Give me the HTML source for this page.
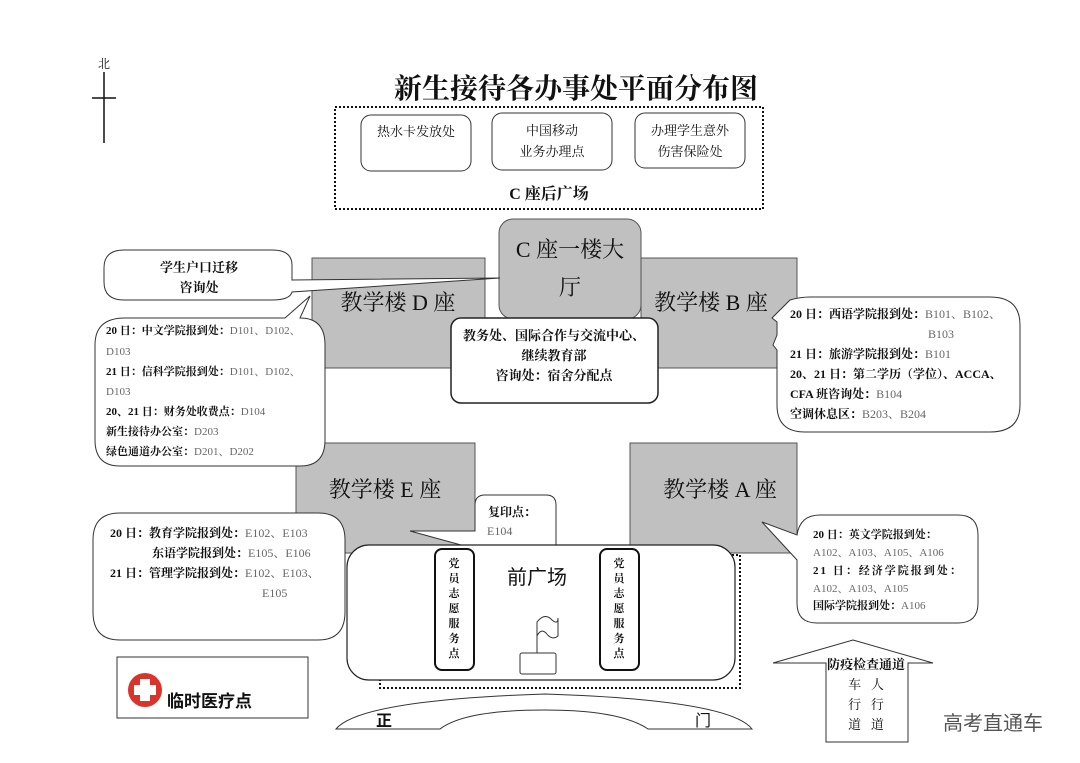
<!DOCTYPE html>
<html><head><meta charset="utf-8"><style>
html,body{margin:0;padding:0;background:#fff;width:1080px;height:763px;overflow:hidden}
svg{display:block}
text{font-family:"Liberation Serif","Noto Serif CJK SC","Noto Sans CJK SC",serif;fill:#111}
.b{font-weight:bold}
.g{fill:#666}
.s{font-family:"Liberation Sans","Noto Sans CJK SC",sans-serif}
</style></head><body>
<svg width="1080" height="763" viewBox="0 0 1080 763" xmlns="http://www.w3.org/2000/svg">
<text x="104" y="68" font-size="12" text-anchor="middle">北</text>
<line x1="104" y1="72" x2="104" y2="143" stroke="#111" stroke-width="1.5"/>
<line x1="92" y1="98" x2="116" y2="98" stroke="#111" stroke-width="1.5"/>
<text x="576" y="98" font-size="28" text-anchor="middle" class="b">新生接待各办事处平面分布图</text>
<rect x="335" y="107" width="428" height="102" fill="none" stroke="#111" stroke-width="2" stroke-dasharray="2,2"/>
<rect x="361" y="115" width="110" height="56" rx="10" fill="#fff" stroke="#333"/>
<rect x="492" y="113" width="120" height="57" rx="10" fill="#fff" stroke="#333"/>
<rect x="635" y="113" width="110" height="55" rx="10" fill="#fff" stroke="#333"/>
<text x="416" y="136" font-size="13" text-anchor="middle">热水卡发放处</text>
<text x="552" y="135" font-size="13" text-anchor="middle">中国移动</text>
<text x="552" y="156" font-size="13" text-anchor="middle">业务办理点</text>
<text x="690" y="135" font-size="13" text-anchor="middle">办理学生意外</text>
<text x="690" y="156" font-size="13" text-anchor="middle">伤害保险处</text>
<text x="549" y="199" font-size="16" text-anchor="middle" class="b">C 座后广场</text>
<rect x="312" y="258" width="173" height="110" fill="#c0c0c0" stroke="#555"/>
<rect x="641" y="258" width="156" height="110" fill="#c0c0c0" stroke="#555"/>
<rect x="296" y="443" width="179" height="110" fill="#c0c0c0" stroke="#555"/>
<rect x="630" y="443" width="167" height="110" fill="#c0c0c0" stroke="#555"/>
<rect x="499" y="219" width="142" height="100" rx="14" fill="#c0c0c0" stroke="#555"/>
<text x="570" y="257" font-size="22" text-anchor="middle">C 座一楼大</text>
<text x="570" y="295" font-size="22" text-anchor="middle">厅</text>
<text x="398" y="310" font-size="22" text-anchor="middle">教学楼 D 座</text>
<text x="711" y="310" font-size="22" text-anchor="middle">教学楼 B 座</text>
<text x="385" y="497" font-size="22" text-anchor="middle">教学楼 E 座</text>
<text x="720" y="497" font-size="22" text-anchor="middle">教学楼 A 座</text>
<rect x="451" y="318" width="207" height="85" rx="10" fill="#fff" stroke="#222" stroke-width="1.5"/>
<text x="554" y="340" font-size="13" text-anchor="middle" class="b">教务处、国际合作与交流中心、</text>
<text x="554" y="360" font-size="13" text-anchor="middle" class="b">继续教育部</text>
<text x="554" y="380" font-size="13" text-anchor="middle" class="b">咨询处：宿舍分配点</text>
<path d="M124,250 H272 Q292,250 292,265 V280 L500,278 L292,292 Q290,300 272,300 H124 Q104,300 104,282 V268 Q104,250 124,250 Z" fill="#fff" stroke="#333"/>
<text x="199" y="272" font-size="13" text-anchor="middle" class="b">学生户口迁移</text>
<text x="199" y="292" font-size="13" text-anchor="middle" class="b">咨询处</text>
<path d="M125,318 H285 L310,296 L300,318 Q325,318 325,345 V440 Q325,466 300,466 H120 Q95,466 95,440 V345 Q95,318 125,318 Z" fill="#fff" stroke="#333"/>
<g font-size="11">
<text x="106" y="334"><tspan class="b">20 日：中文学院报到处：</tspan><tspan class="g">D101、D102、</tspan></text>
<text x="106" y="355" class="g">D103</text>
<text x="106" y="375"><tspan class="b">21 日：信科学院报到处：</tspan><tspan class="g">D101、D102、</tspan></text>
<text x="106" y="395" class="g">D103</text>
<text x="106" y="415"><tspan class="b">20、21 日：财务处收费点：</tspan><tspan class="g">D104</tspan></text>
<text x="106" y="435"><tspan class="b">新生接待办公室：</tspan><tspan class="g">D203</tspan></text>
<text x="106" y="455"><tspan class="b">绿色通道办公室：</tspan><tspan class="g">D201、D202</tspan></text>
</g>
<path d="M810,297 H990 Q1020,297 1020,325 V405 Q1020,432 990,432 H805 Q777,432 777,405 V350 L773,345 L777,335 V322 L772,318 L790,300 Q800,297 810,297 Z" fill="#fff" stroke="#333"/>
<g font-size="12">
<text x="790" y="318"><tspan class="b">20 日：西语学院报到处：</tspan><tspan class="g">B101、B102、</tspan></text>
<text x="928" y="338" class="g">B103</text>
<text x="790" y="358"><tspan class="b">21 日：旅游学院报到处：</tspan><tspan class="g">B101</tspan></text>
<text x="790" y="378" class="b">20、21 日：第二学历（学位）、ACCA、</text>
<text x="790" y="398"><tspan class="b">CFA 班咨询处：</tspan><tspan class="g">B104</tspan></text>
<text x="790" y="418"><tspan class="b">空调休息区：</tspan><tspan class="g">B203、B204</tspan></text>
</g>
<path d="M120,513 H318 Q345,513 345,540 V612 Q345,640 318,640 H120 Q93,640 93,612 V540 Q93,513 120,513 Z" fill="#fff" stroke="#333"/>
<g font-size="12">
<text x="110" y="537"><tspan class="b">20 日：教育学院报到处：</tspan><tspan class="g">E102、E103</tspan></text>
<text x="152" y="557"><tspan class="b">东语学院报到处：</tspan><tspan class="g">E105、E106</tspan></text>
<text x="110" y="577"><tspan class="b">21 日：管理学院报到处：</tspan><tspan class="g">E102、E103、</tspan></text>
<text x="262" y="597" class="g">E105</text>
</g>
<path d="M485,495 H546 Q556,495 556,505 V548 H472 L410,531 L475,531 V505 Q475,495 485,495 Z" fill="#fff" stroke="#333"/>
<text x="488" y="516" font-size="12" class="b">复印点：</text>
<text x="487" y="535" font-size="12" class="g">E104</text>
<path d="M820,515 H958 Q978,515 978,535 V603 Q978,623 958,623 H817 Q797,623 797,603 V560 L762,522 L797,535 Q800,515 820,515 Z" fill="#fff" stroke="#333"/>
<g font-size="11">
<text x="813" y="538" class="b">20 日：英文学院报到处：</text>
<text x="813" y="556" class="g">A102、A103、A105、A106</text>
<text x="813" y="574" class="b" letter-spacing="2">21 日：经济学院报到处：</text>
<text x="813" y="592" class="g">A102、A103、A105</text>
<text x="813" y="609"><tspan class="b">国际学院报到处：</tspan><tspan class="g">A106</tspan></text>
</g>
<rect x="380" y="555" width="360" height="133" fill="none" stroke="#111" stroke-width="2" stroke-dasharray="2,2"/>
<rect x="347" y="545" width="388" height="135" rx="22" fill="#fff" stroke="#222" stroke-width="1.2"/>
<text x="537" y="584" font-size="20" text-anchor="middle" class="s">前广场</text>
<rect x="435" y="549" width="39" height="121" rx="7" fill="#fff" stroke="#111" stroke-width="2"/>
<rect x="600" y="549" width="39" height="121" rx="7" fill="#fff" stroke="#111" stroke-width="2"/>
<g font-size="11" class="b" text-anchor="middle">
<text x="454" y="567">党</text><text x="454" y="582">员</text><text x="454" y="597">志</text><text x="454" y="612">愿</text><text x="454" y="627">服</text><text x="454" y="642">务</text><text x="454" y="657">点</text>
<text x="619" y="567">党</text><text x="619" y="582">员</text><text x="619" y="597">志</text><text x="619" y="612">愿</text><text x="619" y="627">服</text><text x="619" y="642">务</text><text x="619" y="657">点</text>
</g>
<line x1="537" y1="623" x2="537" y2="654" stroke="#333"/>
<path d="M537,622 Q545,612 552,620 Q558,625 558,618 L558,636 Q552,641 546,633 Q541,628 537,636 Z" fill="#fff" stroke="#333"/>
<rect x="520" y="653" width="36" height="21" rx="2" fill="#fff" stroke="#333"/>
<path d="M336,729 Q360,700 545,694 Q730,700 752,729 H648 Q620,710 545,710 Q465,710 440,729 Z" fill="#fff" stroke="#333"/>
<text x="384" y="726" font-size="16" text-anchor="middle" class="s b">正</text>
<text x="703" y="726" font-size="16" text-anchor="middle" class="s">门</text>
<rect x="117" y="657" width="191" height="61" fill="#fff" stroke="#333"/>
<circle cx="145" cy="690" r="17" fill="#d9342b"/>
<rect x="134" y="685" width="22" height="10" fill="#fff"/>
<rect x="140" y="679" width="10" height="22" fill="#fff"/>
<text x="167" y="707" font-size="17" class="s b">临时医疗点</text>
<path d="M853,640 L933,663 H908 V742 H826 V663 H773 Z" fill="#fff" stroke="#333"/>
<text x="866" y="669" font-size="13" text-anchor="middle" class="b">防疫检查通道</text>
<g font-size="13" class="g" text-anchor="middle">
<text x="866" y="689">车 &#160; 人</text>
<text x="866" y="709">行 &#160; 行</text>
<text x="866" y="729">道 &#160; 道</text>
</g>
<text x="943" y="730" font-size="20" class="s" style="fill:#555">高考直通车</text>
</svg>
</body></html>
